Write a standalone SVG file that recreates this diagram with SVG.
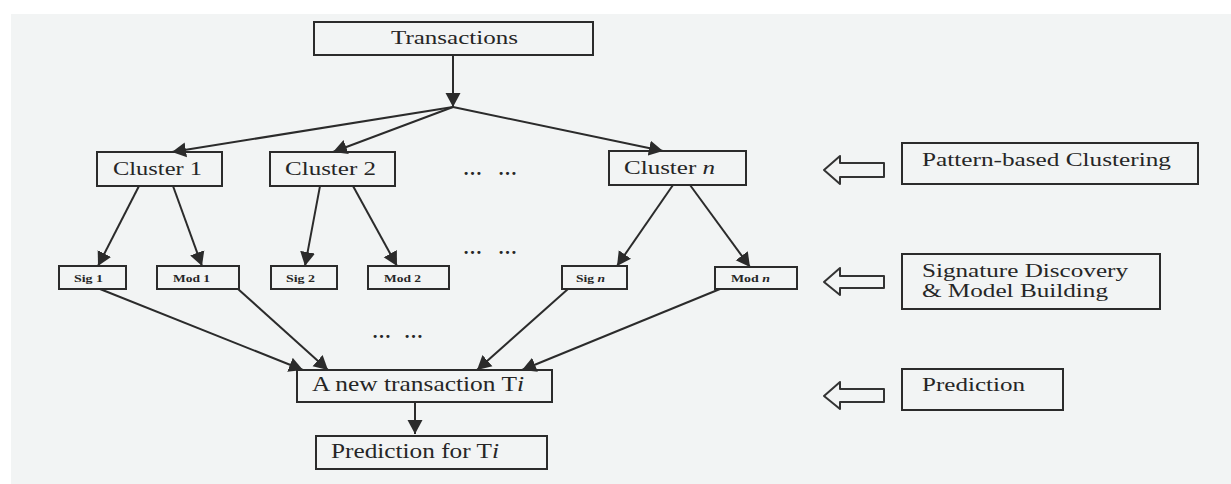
<svg xmlns="http://www.w3.org/2000/svg" width="1231" height="484" viewBox="0 0 1231 484">
<style>
.bx{fill:none;stroke:#2b2b2b;stroke-width:2}
.t{font-family:"Liberation Serif","Times New Roman",serif;fill:#262626}
.s{font-family:"Liberation Serif","Times New Roman",serif;fill:#262626;font-weight:bold;font-size:11px}
.d{font-family:"Liberation Serif","Times New Roman",serif;fill:#262626;font-weight:bold;font-size:19px}
.c{stroke:#2b2b2b;stroke-width:2;fill:none}
.ho{fill:none;stroke:#333;stroke-width:2;stroke-linejoin:round}
</style>
<defs>
<marker id="ah" markerUnits="userSpaceOnUse" markerWidth="16" markerHeight="16" refX="14" refY="8" orient="auto">
<path d="M0,0.5 L14,8 L0,15.5 z" fill="#2b2b2b"/>
</marker>
</defs>
<rect x="0" y="0" width="1231" height="484" fill="#ffffff"/>
<rect x="11" y="14" width="1220" height="470" fill="#f2f4f4"/>

<g id="connectors">
<line class="c" x1="453" y1="55" x2="453" y2="107" marker-end="url(#ah)"/>
<line class="c" x1="453" y1="107" x2="172" y2="152" marker-end="url(#ah)"/>
<line class="c" x1="453" y1="107" x2="333" y2="152" marker-end="url(#ah)"/>
<line class="c" x1="453" y1="107" x2="663" y2="151" marker-end="url(#ah)"/>
<line class="c" x1="139" y1="186" x2="98" y2="266" marker-end="url(#ah)"/>
<line class="c" x1="173" y1="186" x2="202" y2="266" marker-end="url(#ah)"/>
<line class="c" x1="320" y1="186" x2="305" y2="266" marker-end="url(#ah)"/>
<line class="c" x1="353" y1="186" x2="397" y2="266" marker-end="url(#ah)"/>
<line class="c" x1="673" y1="185" x2="617" y2="266" marker-end="url(#ah)"/>
<line class="c" x1="690" y1="185" x2="750" y2="267" marker-end="url(#ah)"/>
<line class="c" x1="100" y1="289" x2="303" y2="370" marker-end="url(#ah)"/>
<line class="c" x1="238" y1="289" x2="328" y2="370" marker-end="url(#ah)"/>
<line class="c" x1="568" y1="289" x2="477" y2="370" marker-end="url(#ah)"/>
<line class="c" x1="720" y1="289" x2="522" y2="370" marker-end="url(#ah)"/>
<line class="c" x1="415" y1="402" x2="415" y2="434" marker-end="url(#ah)"/>
<path class="ho" d="M824,170 L840,156 L840,163 L884,163 L884,177 L840,177 L840,184 Z"/>
<path class="ho" d="M824,282 L840,268 L840,276 L884,276 L884,288 L840,288 L840,295 Z"/>
<path class="ho" d="M824,396 L840,382 L840,389 L884,389 L884,402 L840,402 L840,409 Z"/>
</g>

<g id="transactions"><rect class="bx" x="314" y="22" width="279" height="33"/><text class="t" x="391" y="44" font-size="18" textLength="127" lengthAdjust="spacingAndGlyphs">Transactions</text></g>

<g id="cluster1"><rect class="bx" x="97" y="152" width="125" height="34"/><text class="t" x="113" y="175" font-size="19" textLength="89" lengthAdjust="spacingAndGlyphs">Cluster 1</text></g>
<g id="cluster2"><rect class="bx" x="270" y="152" width="125" height="34"/><text class="t" x="285" y="175" font-size="19" textLength="91" lengthAdjust="spacingAndGlyphs">Cluster 2</text></g>
<g id="clustern"><rect class="bx" x="609" y="151" width="137" height="34"/><text class="t" x="624" y="174" font-size="19" textLength="91" lengthAdjust="spacingAndGlyphs">Cluster <tspan font-style="italic">n</tspan></text></g>
<g id="dots1"><text class="d" x="463" y="175" textLength="54" lengthAdjust="spacing">… …</text></g>

<g id="sig1"><rect class="bx" x="59" y="266" width="67" height="23"/><text class="s" x="74" y="282" textLength="29" lengthAdjust="spacingAndGlyphs">Sig 1</text></g>
<g id="mod1"><rect class="bx" x="157" y="266" width="82" height="23"/><text class="s" x="173" y="282" textLength="37" lengthAdjust="spacingAndGlyphs">Mod 1</text></g>
<g id="sig2"><rect class="bx" x="271" y="266" width="66" height="23"/><text class="s" x="286" y="282" textLength="29" lengthAdjust="spacingAndGlyphs">Sig 2</text></g>
<g id="mod2"><rect class="bx" x="368" y="266" width="81" height="23"/><text class="s" x="384" y="282" textLength="37" lengthAdjust="spacingAndGlyphs">Mod 2</text></g>
<g id="dots2"><text class="d" x="463" y="254" textLength="54" lengthAdjust="spacing">… …</text></g>
<g id="sign"><rect class="bx" x="562" y="266" width="65" height="23"/><text class="s" x="576" y="282" textLength="29" lengthAdjust="spacingAndGlyphs">Sig <tspan font-style="italic">n</tspan></text></g>
<g id="modn"><rect class="bx" x="715" y="267" width="82" height="22"/><text class="s" x="731" y="282" textLength="39" lengthAdjust="spacingAndGlyphs">Mod <tspan font-style="italic">n</tspan></text></g>
<g id="dots3"><text class="d" x="372" y="338" textLength="51" lengthAdjust="spacing">… …</text></g>

<g id="newtrans"><rect class="bx" x="297" y="370" width="255" height="32"/><text class="t" x="312" y="391" font-size="21" textLength="212" lengthAdjust="spacingAndGlyphs">A new transaction T<tspan font-style="italic">i</tspan></text></g>
<g id="predfor"><rect class="bx" x="316" y="436" width="231" height="33"/><text class="t" x="331" y="458" font-size="21" textLength="168" lengthAdjust="spacingAndGlyphs">Prediction for T<tspan font-style="italic">i</tspan></text></g>

<g id="patternlabel"><rect class="bx" x="902" y="143" width="296" height="41"/><text class="t" x="922" y="166" font-size="18" textLength="249" lengthAdjust="spacingAndGlyphs">Pattern-based Clustering</text></g>
<g id="signaturelabel"><rect class="bx" x="902" y="254" width="258" height="55"/><text class="t" x="922" y="277" font-size="18" textLength="206" lengthAdjust="spacingAndGlyphs">Signature Discovery</text><text class="t" x="922" y="297" font-size="18" textLength="186" lengthAdjust="spacingAndGlyphs">&amp; Model Building</text></g>
<g id="predictionlabel"><rect class="bx" x="902" y="369" width="161" height="41"/><text class="t" x="922" y="391" font-size="18" textLength="103" lengthAdjust="spacingAndGlyphs">Prediction</text></g>
</svg>
